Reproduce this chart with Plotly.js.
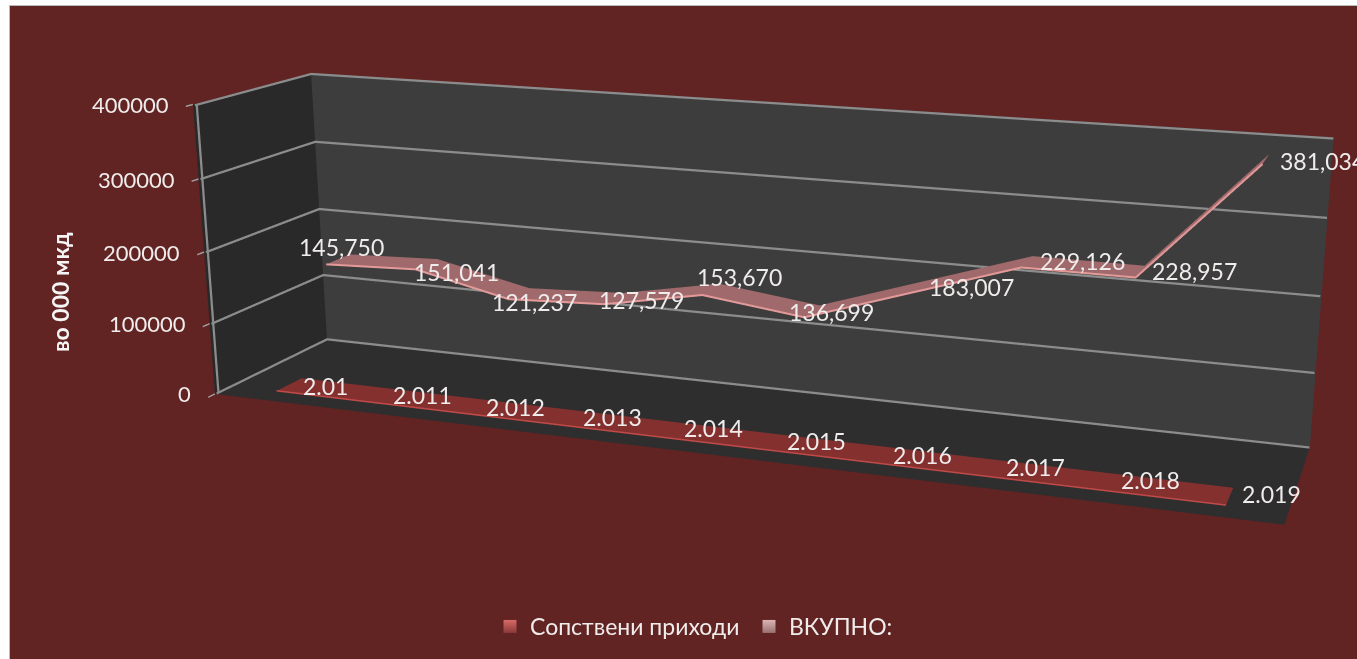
<!DOCTYPE html>
<html>
<head>
<meta charset="utf-8">
<script src="https://cdn.plot.ly/plotly-3.0.1.min.js"></script>
<style>
html,body{margin:0;padding:0;width:1357px;height:659px;overflow:hidden;background:#fff}
#bg{position:absolute;left:9px;top:5px;width:1348px;height:654px;background:#622323;border-left:1px solid #bbb;border-top:1px solid #bbb;box-sizing:border-box}
#chart{position:absolute}
</style>
</head>
<body>
<div id="bg"></div>
<div id="chart"></div>
<script>
// ---------- data ----------
var years = [2010,2011,2012,2013,2014,2015,2016,2017,2018,2019];
var ownIncome = [2.01,2.011,2.012,2.013,2.014,2.015,2.016,2.017,2.018,2.019];
var total = [145750,151041,121237,127579,153670,136699,183007,229126,228957,381034];
var seriesNames = ['Сопствени приходи','ВКУПНО:'];
var valueTicks = [0,100000,200000,300000,400000];
var valueTitle = 'во 000 мкд';

// ---------- label nudges (screen px) ----------
var totalShiftX = [3,30,15,28,29,19,54,55,54,57];
var totalShiftY = [12,-8,-8,-2,12,-1,0,1,1,-2];
var ownShiftX = [36,42,42,41,42,41,40,41,41,42];
var ownShiftY = [-1,0,0,1,2,1,0,1,2,2];

// ---------- frame ----------
var W = 2200, H = 1708, LEFT = -315, TOP = -528;
var el = document.getElementById('chart');
el.style.cssText = 'left:'+LEFT+'px;top:'+TOP+'px;width:'+W+'px;height:'+H+'px';
function px(x){return (x-LEFT)/W;}
function py(y){return 1-(y-TOP)/H;}

var FONT = 'Lato, "Noto Sans", sans-serif';
var TEXT = '#f0ecec';
var RIBBON = 0.22;
var X0 = 2009.5, X1 = 2019.5, Y0 = 0.5, Y1 = 2.5;
var GRID = '#8c8c8c';
var LIFT_X = 0.02, LIFT_Y = 0.03, LIFT_Z = 900; // keeps wall lines just off the wall surfaces

function ribbon(xs, zs, yc, fill, edge){
  var vx=[],vy=[],vz=[],a=[],b=[],c=[];
  xs.forEach(function(x,i){
    vx.push(x,x); vy.push(yc-RIBBON,yc+RIBBON); vz.push(zs[i],zs[i]);
    if(i<xs.length-1){
      var n=2*i;
      a.push(n,n+1); b.push(n+1,n+3); c.push(n+2,n+2);
    }
  });
  return [
    {type:'mesh3d',x:vx,y:vy,z:vz,i:a,j:b,k:c,color:fill,flatshading:true,
     lighting:{ambient:1,diffuse:0,specular:0,roughness:1,fresnel:0},hoverinfo:'skip',showscale:false},
    {type:'scatter3d',mode:'lines',x:xs,y:xs.map(function(){return yc-RIBBON;}),z:zs,
     line:{color:edge,width:4},showlegend:false,hoverinfo:'skip'}
  ];
}

// wall gridlines and the value-axis edge, drawn at the reference's weight
var gx=[],gy=[],gz=[];
var zMin = valueTicks[0], zMax = valueTicks[valueTicks.length-1];
valueTicks.forEach(function(t){
  var zt = Math.max(zMin+LIFT_Z, Math.min(zMax-LIFT_Z, t));
  gx.push(X1,X0+LIFT_X,X0+LIFT_X,null); gy.push(Y1-LIFT_Y,Y1-LIFT_Y,Y0,null); gz.push(zt,zt,zt,null);
});
gx.push(X0+LIFT_X,X0+LIFT_X); gy.push(Y0+LIFT_Y,Y0+LIFT_Y); gz.push(zMin+LIFT_Z,zMax-LIFT_Z);

var traces = [
  {type:'scatter3d',mode:'lines',x:gx,y:gy,z:gz,line:{color:GRID,width:4.5},
   connectgaps:false,showlegend:false,hoverinfo:'skip'}
].concat(
  ribbon(years, ownIncome, 1, '#83302f', '#c04a48'),
  ribbon(years, total, 2, '#a06a6c', '#e59a9a')
);
// legend entries
traces.push({type:'scatter',mode:'markers',x:[null],y:[null],name:seriesNames[0],
  marker:{symbol:'square',size:13,color:'#d86a66',gradient:{type:'vertical',color:'#8a3a3a'}},
  showlegend:true,hoverinfo:'skip'});
traces.push({type:'scatter',mode:'markers',x:[null],y:[null],name:seriesNames[1],
  marker:{symbol:'square',size:13,color:'#dcb4b4',gradient:{type:'vertical',color:'#9a7070'}},
  showlegend:true,hoverinfo:'skip'});

var sceneAnn = [];
total.forEach(function(v,i){
  sceneAnn.push({x:years[i],y:2,z:v,text:v.toLocaleString('en-US'),showarrow:false,
    xanchor:'center',yanchor:'middle',xshift:totalShiftX[i],yshift:totalShiftY[i],
    font:{family:FONT,size:23,color:TEXT}});
});
ownIncome.forEach(function(v,i){
  sceneAnn.push({x:years[i],y:1,z:v,text:String(v),showarrow:false,
    xanchor:'center',yanchor:'middle',xshift:ownShiftX[i],yshift:ownShiftY[i],
    font:{family:FONT,size:23,color:TEXT}});
});
valueTicks.forEach(function(t){
  sceneAnn.push({x:X0,y:Y0,z:Math.min(t,399900),text:String(t),showarrow:false,
    xanchor:'right',yanchor:'middle',xshift:-22,yshift:0,
    font:{family:FONT,size:22,color:TEXT}});
});

var blank = {showgrid:false,zeroline:false,showticklabels:false,ticks:'',showline:false,
  title:{text:''},showspikes:false};

var layout = {
  width:W,height:H,margin:{l:0,r:0,t:0,b:0},autosize:false,
  paper_bgcolor:'rgba(0,0,0,0)',plot_bgcolor:'rgba(0,0,0,0)',
  xaxis:{visible:false},yaxis:{visible:false},
  hovermode:false,
  showlegend:true,
  legend:{orientation:'h',x:px(490),y:py(605),xanchor:'left',yanchor:'top',
    entrywidth:214,entrywidthmode:'pixels',
    bgcolor:'rgba(0,0,0,0)',font:{family:FONT,size:23,color:TEXT},itemclick:false},
  annotations:[{xref:'paper',yref:'paper',x:px(60),y:py(292),xanchor:'center',yanchor:'middle',
    text:'<b>'+valueTitle+'</b>',textangle:-90,showarrow:false,font:{family:FONT,size:23,color:'#f5f5f5'}}],
  scene:{
    domain:{x:[0,1],y:[0,1]},
    aspectmode:'manual',aspectratio:{x:1,y:0.2,z:0.2786},
    camera:{projection:{type:'perspective'},
      eye:{x:0.6354,y:-1.6868,z:0.4624},
      center:{x:0.041,y:0.0006,z:-0.0459},
      up:{x:-0.0939,y:0.2565,z:0.9617}},
    annotations:sceneAnn,
    xaxis:Object.assign({},blank,{range:[X0,X1],showbackground:true,backgroundcolor:'#292929'}),
    yaxis:Object.assign({},blank,{range:[Y0,Y1],showbackground:true,backgroundcolor:'#3d3d3d'}),
    zaxis:{range:[0,400000],tickvals:valueTicks,showticklabels:false,title:{text:''},
      showbackground:true,backgroundcolor:'#2e2e2e',showgrid:false,
      showline:false,ticks:'outside',ticklen:10,tickwidth:3,tickcolor:'#a0a0a0',
      zeroline:false,showspikes:false}
  }
};
Plotly.newPlot(el,traces,layout,{displayModeBar:false,responsive:false});
</script>
</body>
</html>
